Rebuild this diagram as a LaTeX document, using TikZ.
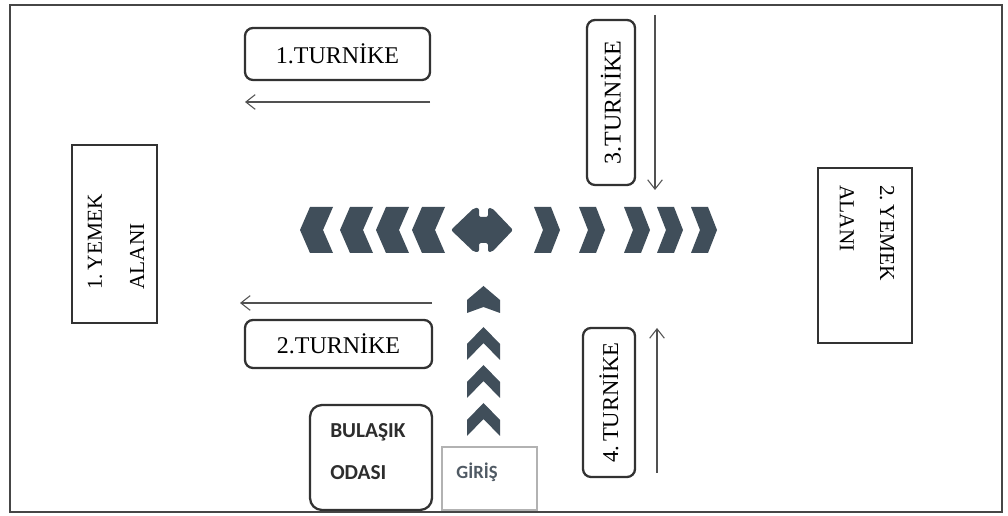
\documentclass[tikz,border=0pt]{standalone}
\usepackage{fontspec}
\setmainfont{Liberation Serif}
\newfontfamily\calib{Carlito}
\usetikzlibrary{arrows.meta}
\definecolor{chev}{RGB}{64,78,90}
\definecolor{boxline}{RGB}{50,50,50}
\definecolor{frameline}{RGB}{70,70,70}
\definecolor{girisgray}{RGB}{80,90,100}
\tikzset{
  turn/.style={draw=boxline, line width=1.7pt, rounded corners=6pt, inner sep=0pt,
    font=\fontsize{18}{20}\selectfont},
  area/.style={draw=boxline, line width=1.9pt, inner sep=0pt},
  lbl/.style={inner sep=0pt, font=\fontsize{16}{18}\selectfont},
  sanslbl/.style={inner sep=0pt, font=\calib\fontsize{16}{18}\selectfont\bfseries, text=boxline!90!black},
  flow/.style={draw=boxline!85, line width=0.8pt, -{Straight Barb[length=7pt,width=11pt]}},
  chl/.pic={\fill[chev] (0,0) -- (10,-23) -- (33,-23) -- (23,0) -- (33,23) -- (10,23) -- cycle;},
  chr/.pic={\fill[chev] (0,0) -- (-9,-23) -- (-26,-23) -- (-17,0) -- (-26,23) -- (-9,23) -- cycle;},
  chu/.pic={\fill[chev] (0,0) -- (16.5,17) -- (16.5,33) -- (0,16) -- (-16.5,33) -- (-16.5,17) -- cycle;},
  chutop/.pic={\fill[chev] (0,0) -- (16.5,14) -- (16.5,27) -- (0,21) -- (-16.5,27) -- (-16.5,14) -- cycle;},
}
\begin{document}
\begin{tikzpicture}[x=0.75pt, y=-0.75pt]
\useasboundingbox (0,0) rectangle (1008,516);
\fill[white] (0,0) rectangle (1008,516);
% outer frame
\draw[frameline, line width=2.2pt] (10,5) rectangle (1002,512);

% turnstiles
\node[turn, minimum width=138.75pt, minimum height=39pt] (t1) at (337.5,54) {1.TURNİKE};
\node[turn, minimum width=140.25pt, minimum height=36pt] (t2) at (338.5,344) {2.TURNİKE};
\node[turn, rotate=90, minimum width=123.75pt, minimum height=36pt] (t3) at (611,102.5) {3.TURNİKE};
\node[turn, rotate=90, minimum width=111.75pt, minimum height=39pt, font=\fontsize{17}{19}\selectfont] (t4) at (609,402.5) {4.\,TURNİKE};

% dining areas
\node[area, minimum width=63.75pt, minimum height=133.5pt] (y1) at (114.5,234) {};
\node[lbl, rotate=90, anchor=west] (y1a) at (95,290) {1.\,YEMEK};
\node[lbl, rotate=90, anchor=west] (y1b) at (137,290) {ALANI};
\node[area, minimum width=70.5pt, minimum height=131.25pt] (y2) at (865,255.5) {};
\node[lbl, rotate=-90, anchor=west] (y2a) at (887,185) {2.\,YEMEK};
\node[lbl, rotate=-90, anchor=west] (y2b) at (847,185) {ALANI};

% dishwashing room and entrance
\node[draw=boxline, line width=1.7pt, rounded corners=9pt, minimum width=91.5pt, minimum height=78.75pt] (bo) at (371,457.5) {};
\node[sanslbl, anchor=west] (bo1) at (330,432) {BULAŞIK};
\node[sanslbl, anchor=west] (bo2) at (330,473) {ODASI};
\node[draw=gray!60, line width=0.9pt, minimum width=71.25pt, minimum height=47.25pt] (gi) at (489.5,478.5) {};
\node[inner sep=0pt, font=\calib\fontsize{14}{16}\selectfont\bfseries, text=girisgray] (gil) at (477,472) {GİRİŞ};

% flow arrows
\coordinate (a1s) at (430,102); \coordinate (a1e) at (245,102);
\coordinate (a2s) at (432,303); \coordinate (a2e) at (240,303);
\coordinate (a3s) at (655,15);  \coordinate (a3e) at (655,190);
\coordinate (a4s) at (657,473); \coordinate (a4e) at (657,328);
\draw[flow] (a1s) -- (a1e);
\draw[flow] (a2s) -- (a2e);
\draw[flow] (a3s) -- (a3e);
\draw[flow] (a4s) -- (a4e);

% chevrons
\pic at (300,230) {chl};
\pic at (340,230) {chl};
\pic at (376,230) {chl};
\pic at (412,230) {chl};
\fill[chev, rounded corners=1.5pt] (451,230) -- (474,208) -- (479,208) -- (479,217) -- (488,217) -- (488,208) -- (492,208) -- (513,230) -- (492,252) -- (488,252) -- (488,243) -- (479,243) -- (479,252) -- (474,252) -- cycle;
\pic at (560,230) {chr};
\pic at (605,230) {chr};
\pic at (650,230) {chr};
\pic at (683,230) {chr};
\pic at (717,230) {chr};
\pic at (483.5,286) {chutop};
\pic at (483.5,327) {chu};
\pic at (483.5,365) {chu};
\pic at (483.5,403) {chu};
\end{tikzpicture}
\end{document}
